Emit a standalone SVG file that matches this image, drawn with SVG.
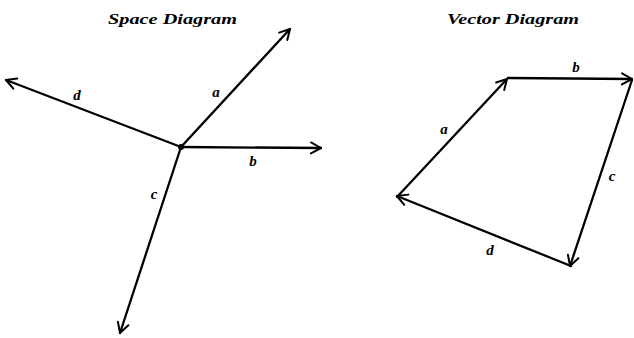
<svg xmlns="http://www.w3.org/2000/svg" width="634" height="338" viewBox="0 0 634 338">
<style>
.ln{stroke:#000;stroke-width:2.3;fill:none;stroke-linecap:round;marker-end:url(#ah)}
.t{font-family:"Liberation Serif",serif;font-style:italic;font-weight:bold;fill:#000}
.title{font-size:15px}
.lb{font-size:15px;text-anchor:middle}
</style>
<defs>
<marker id="ah" viewBox="-12 -7 14 14" refX="0" refY="0" markerWidth="14" markerHeight="14" markerUnits="userSpaceOnUse" orient="auto">
<path d="M-10,-5.5 L0,0 L-10,5.5" fill="none" stroke="#000" stroke-width="2" stroke-linecap="round" stroke-linejoin="round"/>
</marker>
</defs>
<rect width="634" height="338" fill="#fff"/>
<g id="titles">
<text class="t title" x="108" y="24" textLength="129" lengthAdjust="spacingAndGlyphs">Space Diagram</text>
<text class="t title" x="447" y="24" textLength="132" lengthAdjust="spacingAndGlyphs">Vector Diagram</text>
</g>
<g id="center"><circle cx="181" cy="147" r="3" fill="#000"/></g>
<g id="connectors">
<line class="ln" x1="181" y1="147" x2="290" y2="29"/>
<line class="ln" x1="181" y1="147" x2="321" y2="148"/>
<line class="ln" x1="181" y1="147" x2="120" y2="333"/>
<line class="ln" x1="181" y1="147" x2="6" y2="80"/>
<line class="ln" x1="397" y1="197" x2="507" y2="79"/>
<line class="ln" x1="508" y1="78" x2="632" y2="79"/>
<line class="ln" x1="632" y1="80" x2="570" y2="266"/>
<line class="ln" x1="571" y1="266" x2="397" y2="196"/>
</g>
<g id="labels">
<text class="t lb" x="216" y="97">a</text>
<text class="t lb" x="253" y="166">b</text>
<text class="t lb" x="154" y="199">c</text>
<text class="t lb" x="77" y="100">d</text>
<text class="t lb" x="444" y="134">a</text>
<text class="t lb" x="576" y="72">b</text>
<text class="t lb" x="612" y="181">c</text>
<text class="t lb" x="490" y="255">d</text>
</g>
</svg>
